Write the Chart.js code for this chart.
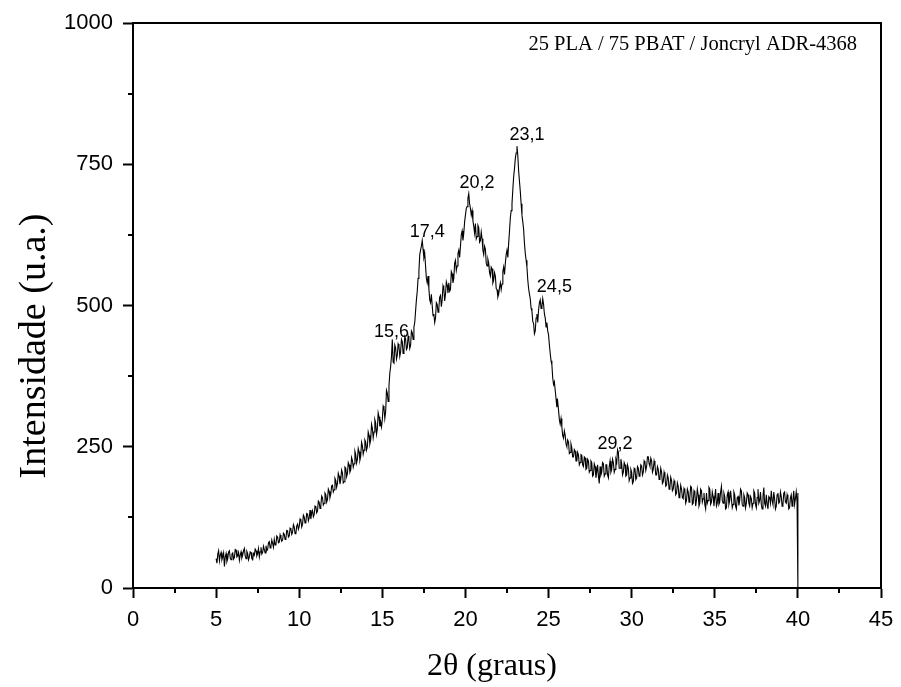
<!DOCTYPE html>
<html><head><meta charset="utf-8">
<script src="https://cdn.jsdelivr.net/npm/chart.js@4.4.1/dist/chart.umd.min.js"></script>
<style>html,body{margin:0;padding:0;background:#fff;}</style>
</head><body>
<canvas id="c" width="901" height="687"></canvas>
<script>
// ---- data ----
const startAngle = 5.0;
const angleStep = 0.05;
const intensity = [
 52, 44, 60, 66, 48, 58, 63, 50, 55, 62,
 38, 55, 61, 47, 52, 64, 66, 53, 50, 60,
 62, 51, 54, 68, 67, 55, 57, 63, 49, 58,
 64, 53, 58, 66, 70, 57, 52, 65, 61, 50,
 55, 64, 63, 52, 50, 61, 58, 69, 66, 57,
 61, 70, 55, 64, 72, 60, 63, 74, 68, 62,
 75, 66, 68, 80, 82, 71, 74, 85, 79, 72,
 86, 76, 77, 92, 90, 80, 81, 94, 88, 83,
 85, 97, 95, 86, 88, 102, 101, 90, 92, 106,
 104, 95, 99, 112, 108, 96, 97, 110, 113, 104,
 109, 122, 120, 108, 113, 129, 126, 115, 118, 132,
 131, 119, 124, 138, 122, 133, 137, 126, 130, 145,
 144, 133, 136, 154, 152, 141, 146, 163, 160, 147,
 150, 168, 165, 152, 157, 175, 171, 160, 166, 181,
 182, 170, 174, 194, 190, 178, 185, 203, 198, 184,
 192, 209, 204, 186, 188, 214, 212, 197, 203, 222,
 218, 205, 209, 231, 226, 214, 220, 242, 236, 221,
 228, 247, 241, 226, 233, 258, 252, 237, 244, 262,
 258, 244, 250, 276, 270, 255, 262, 290, 283, 266,
 276, 298, 292, 272, 281, 310, 303, 286, 294, 285,
 298, 322, 318, 300, 312, 350, 345, 330, 358, 380,
 392, 410, 440, 400, 398, 430, 425, 405, 412, 432,
 428, 410, 418, 440, 436, 415, 420, 445, 441, 422,
 425, 446, 438, 424, 430, 455, 452, 440, 462, 470,
 490, 510, 525, 548, 560, 590, 598, 605, 615, 600,
 585, 592, 570, 548, 540, 552, 530, 510, 505, 520,
 500, 482, 485, 470, 478, 505, 502, 488, 495, 515,
 518, 498, 510, 535, 530, 508, 520, 542, 536, 522,
 540, 525, 528, 560, 556, 540, 548, 575, 580, 562,
 570, 592, 598, 585, 605, 625, 632, 615, 628, 648,
 660, 672, 675, 690, 698, 680, 672, 660, 668, 650,
 640, 628, 645, 618, 622, 642, 638, 612, 615, 630,
 618, 598, 590, 605, 600, 575, 570, 582, 575, 558,
 552, 568, 565, 540, 545, 558, 552, 530, 528, 515,
 520, 532, 540, 528, 538, 560, 568, 555, 575, 590,
 598, 585, 610, 632, 655, 668, 680, 705, 728, 742,
 760, 770, 782, 765, 738, 720, 702, 680, 660, 648,
 635, 610, 592, 580, 568, 545, 530, 520, 512, 495,
 490, 472, 468, 450, 455, 478, 485, 470, 492, 505,
 510, 495, 498, 512, 502, 485, 478, 462, 470, 455,
 448, 430, 415, 402, 395, 372, 360, 365, 350, 335,
 320, 330, 315, 298, 290, 300, 285, 270, 265, 278,
 270, 255, 250, 262, 258, 238, 240, 255, 248, 232,
 232, 245, 242, 225, 225, 240, 235, 218, 222, 236,
 235, 218, 215, 232, 230, 210, 212, 228, 225, 205,
 208, 225, 222, 198, 200, 220, 215, 195, 205, 218,
 198, 185, 215, 200, 205, 222, 220, 198, 202, 218,
 218, 200, 195, 215, 225, 205, 210, 228, 222, 205,
 210, 228, 222, 245, 240, 212, 212, 228, 220, 200,
 205, 222, 218, 198, 200, 218, 212, 190, 195, 210,
 205, 185, 188, 212, 210, 192, 195, 215, 212, 198,
 200, 218, 216, 200, 205, 225, 222, 208, 215, 232,
 232, 220, 215, 230, 225, 205, 210, 225, 218, 200,
 200, 215, 210, 192, 195, 212, 205, 185, 188, 205,
 198, 180, 182, 200, 195, 175, 178, 196, 190, 172,
 175, 190, 185, 165, 168, 186, 180, 160, 165, 182,
 175, 160, 158, 176, 172, 150, 155, 175, 170, 152,
 160, 180, 178, 148, 150, 172, 168, 145, 156, 175,
 165, 145, 150, 175, 172, 152, 158, 168, 148, 140,
 168, 150, 155, 178, 175, 148, 152, 170, 162, 145,
 160, 175, 145, 150, 168, 148, 152, 170, 180, 155,
 150, 168, 162, 140, 142, 165, 170, 148, 155, 172,
 158, 142, 148, 170, 165, 145, 140, 160, 162, 146,
 155, 175, 172, 148, 145, 165, 160, 142, 150, 168,
 165, 150, 145, 162, 158, 142, 150, 172, 168, 148,
 142, 160, 175, 150, 155, 170, 148, 140, 162, 178,
 150, 145, 165, 148, 140, 162, 160, 150, 172, 155,
 148, 170, 158, 140, 145, 165, 168, 150, 152, 170,
 162, 145, 148, 168, 170, 152, 150, 165, 158, 140,
 142, 160, 165, 145, 155, 172, 148, 158, 170, 152,
 168
];
const endAngle = 40.0;      // scan ends here, trace drops to
const endIntensity = 0;     // zero at the last angle

const peakLabels = ['15,6', '17,4', '20,2', '23,1', '24,5', '29,2'];
const peakLabelAngle = [15.55, 17.7, 20.7, 23.7, 25.35, 29.0];
const peakLabelIntensity = [456, 633, 720, 805, 536, 257];

const sampleName = '25 PLA / 75 PBAT / Joncryl ADR-4368';
const xTitle = '2\u03B8 (graus)';
const yTitle = 'Intensidade (u.a.)';
const xMin = 0, xMax = 45, xStep = 5;
const yMin = 0, yMax = 1000, yStep = 250;

// ---- build points ----
const points = intensity.map((v, i) => ({ x: +(startAngle + i * angleStep).toFixed(3), y: v }));
points.push({ x: endAngle, y: endIntensity });

const decorPlugin = {
  id: 'decor',
  afterDraw(chart) {
    const { ctx, chartArea: a, scales: { x, y } } = chart;
    ctx.save();
    ctx.strokeStyle = '#000';
    ctx.lineWidth = 2;
    // top and right frame
    ctx.beginPath();
    ctx.moveTo(a.left, a.top); ctx.lineTo(a.right, a.top); ctx.lineTo(a.right, a.bottom);
    ctx.stroke();
    // minor ticks
    ctx.beginPath();
    for (let v = xMin + xStep / 2; v < xMax; v += xStep) {
      const px = Math.round(x.getPixelForValue(v));
      ctx.moveTo(px, a.bottom); ctx.lineTo(px, a.bottom + 5);
    }
    for (let v = yMin + yStep / 2; v < yMax; v += yStep) {
      const py = Math.round(y.getPixelForValue(v));
      ctx.moveTo(a.left, py); ctx.lineTo(a.left - 5, py);
    }
    ctx.stroke();
    // peak labels
    ctx.fillStyle = '#000';
    ctx.font = '18px "Liberation Sans", Arial, sans-serif';
    ctx.textAlign = 'center';
    ctx.textBaseline = 'alphabetic';
    peakLabels.forEach((t, i) => {
      ctx.fillText(t, x.getPixelForValue(peakLabelAngle[i]), y.getPixelForValue(peakLabelIntensity[i]) + 6.5);
    });
    // sample name
    ctx.font = '20.5px "Liberation Serif", "Times New Roman", serif';
    ctx.textAlign = 'right';
    ctx.fillText(sampleName, a.right - 24, a.top + 27);
    // axis titles
    ctx.font = '32px "Liberation Serif", "Times New Roman", serif';
    ctx.textAlign = 'center';
    ctx.fillText(xTitle, 492, 675);
    ctx.save();
    ctx.translate(45, 346);
    ctx.rotate(-Math.PI / 2);
    ctx.font = '38px "Liberation Serif", "Times New Roman", serif';
    ctx.fillText(yTitle, 0, 0);
    ctx.restore();
    ctx.restore();
  }
};

const tickFont = { family: '"Liberation Sans", Arial, sans-serif', size: 22 };

new Chart(document.getElementById('c'), {
  type: 'line',
  data: { datasets: [{ data: points, borderColor: '#000', borderWidth: 1.1, pointRadius: 0, tension: 0, fill: false }] },
  options: {
    responsive: false,
    animation: false,
    events: [],
    layout: { padding: { left: 0, right: 20, top: 23, bottom: 0 } },
    plugins: { legend: { display: false }, tooltip: { enabled: false } },
    scales: {
      x: {
        type: 'linear', min: xMin, max: xMax,
        afterFit(s) { s.height = 99; s.paddingLeft = 0; s.paddingRight = 0; },
        ticks: { stepSize: xStep, padding: 9, color: '#000', font: tickFont, maxRotation: 0, callback: v => String(v) },
        grid: { display: true, drawOnChartArea: false, drawTicks: true, tickLength: 10, tickWidth: 2, tickColor: '#000', color: '#000' },
        border: { display: true, color: '#000', width: 2 }
      },
      y: {
        min: yMin, max: yMax,
        afterFit(s) { s.width = 133; s.paddingTop = 0; s.paddingBottom = 0; },
        ticks: { stepSize: yStep, padding: 10, color: '#000', font: tickFont, callback: v => String(v) },
        grid: { display: true, drawOnChartArea: false, drawTicks: true, tickLength: 10, tickWidth: 2, tickColor: '#000', color: '#000' },
        border: { display: true, color: '#000', width: 2 }
      }
    }
  },
  plugins: [decorPlugin]
});
</script>
</body></html>
